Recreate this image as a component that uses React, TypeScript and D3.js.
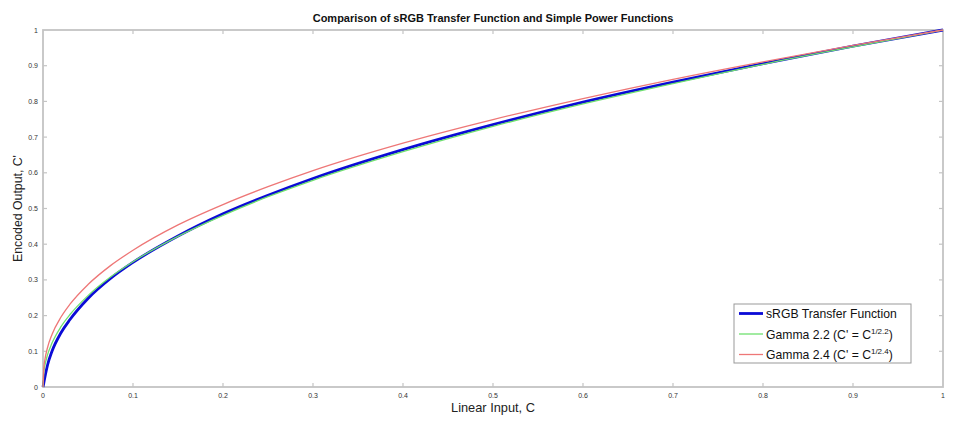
import React, { useEffect, useRef } from "react";
import * as d3 from "d3";

// input samples (x) and curve values
const inputs = [0, 0.001, 0.002, 0.005, 0.01, 0.02, 0.03, 0.05, 0.075, 0.1, 0.15, 0.2, 0.25, 0.3, 0.4, 0.5, 0.6, 0.7, 0.8, 0.9, 1];
const srgbValues = [0, 0.013, 0.026, 0.061, 0.1, 0.152, 0.189, 0.248, 0.304, 0.349, 0.423, 0.485, 0.537, 0.584, 0.665, 0.735, 0.798, 0.854, 0.906, 0.955, 1];
const gamma22Values = [0, 0.043, 0.059, 0.09, 0.123, 0.169, 0.203, 0.256, 0.308, 0.351, 0.422, 0.481, 0.533, 0.579, 0.659, 0.73, 0.793, 0.85, 0.904, 0.953, 1];
const gamma24Values = [0, 0.056, 0.075, 0.11, 0.147, 0.196, 0.232, 0.287, 0.34, 0.383, 0.454, 0.511, 0.561, 0.606, 0.683, 0.749, 0.808, 0.862, 0.911, 0.957, 1];
const tickValues = [0, 0.1, 0.2, 0.3, 0.4, 0.5, 0.6, 0.7, 0.8, 0.9, 1];

const W = 975;
const H = 429;
const margin = { left: 43, right: 32, top: 30, bottom: 42 };

const App: React.FC = () => {
  const ref = useRef<HTMLDivElement>(null);

  useEffect(() => {
    if (!ref.current) return;
    d3.select(ref.current).selectAll("*").remove();

    const svg = d3.select(ref.current).append("svg")
      .attr("width", W).attr("height", H)
      .style("display", "block")
      .style("font-family", "Arial, 'Liberation Sans', sans-serif");

    const x = d3.scaleLinear().domain([0, 1]).range([margin.left, W - margin.right]);
    const y = d3.scaleLinear().domain([0, 1]).range([H - margin.bottom, margin.top]);

    const axisColor = "#c4c4c4";
    const labelColor = "#333";

    // plot frame
    svg.append("rect")
      .attr("x", x(0)).attr("y", y(1))
      .attr("width", x(1) - x(0)).attr("height", y(0) - y(1))
      .attr("fill", "#fff").attr("stroke", axisColor).attr("stroke-width", 1.8);

    // ticks (inward, mirrored on top and right)
    const tl = 4;
    const tg = svg.append("g").attr("stroke", axisColor).attr("stroke-width", 1.2);
    tickValues.slice(1, -1).forEach((t) => {
      tg.append("line").attr("x1", x(t)).attr("x2", x(t)).attr("y1", y(0)).attr("y2", y(0) - tl);
      tg.append("line").attr("x1", x(t)).attr("x2", x(t)).attr("y1", y(1)).attr("y2", y(1) + tl);
      tg.append("line").attr("y1", y(t)).attr("y2", y(t)).attr("x1", x(0)).attr("x2", x(0) + tl);
      tg.append("line").attr("y1", y(t)).attr("y2", y(t)).attr("x1", x(1)).attr("x2", x(1) - tl);
    });

    // tick labels
    svg.append("g").selectAll("text").data(tickValues).enter().append("text")
      .attr("x", (d) => x(d)).attr("y", y(0) + 11)
      .attr("text-anchor", "middle").attr("font-size", 7).attr("fill", labelColor)
      .text((d) => String(d));
    svg.append("g").selectAll("text").data(tickValues).enter().append("text")
      .attr("x", x(0) - 5).attr("y", (d) => y(d) + 2.5)
      .attr("text-anchor", "end").attr("font-size", 7).attr("fill", labelColor)
      .text((d) => String(d));

    // curves
    const pts = (vals: number[]) => inputs.map((v, i) => [v, vals[i]] as [number, number]);
    const line = d3.line<[number, number]>()
      .x((d) => x(d[0])).y((d) => y(d[1]))
      .curve(d3.curveMonotoneX);

    const series = [
      { vals: srgbValues, color: "#0b0bd6", width: 2.8 },
      { vals: gamma22Values, color: "#6fe06f", width: 1.3 },
      { vals: gamma24Values, color: "#ee7777", width: 1.3 },
    ];
    series.forEach((s) => {
      svg.append("path").datum(pts(s.vals))
        .attr("d", line).attr("fill", "none")
        .attr("stroke", s.color).attr("stroke-width", s.width);
    });

    // title and axis labels
    svg.append("text")
      .attr("x", (x(0) + x(1)) / 2).attr("y", 22)
      .attr("text-anchor", "middle").attr("font-size", 11).attr("font-weight", "bold").attr("fill", "#111")
      .text("Comparison of sRGB Transfer Function and Simple Power Functions");
    svg.append("text")
      .attr("x", (x(0) + x(1)) / 2).attr("y", H - 17)
      .attr("text-anchor", "middle").attr("font-size", 12.8).attr("fill", "#222")
      .text("Linear Input, C");
    svg.append("text")
      .attr("transform", `translate(22, ${(y(0) + y(1)) / 2}) rotate(-90)`)
      .attr("text-anchor", "middle").attr("font-size", 12.3).attr("fill", "#222")
      .text("Encoded Output, C'");

    // legend
    const lx = 734, ly = 304, lw = 177, lh = 59;
    const lg = svg.append("g");
    lg.append("rect").attr("x", lx).attr("y", ly).attr("width", lw).attr("height", lh)
      .attr("fill", "#fff").attr("stroke", "#999").attr("stroke-width", 1);
    const entries = [
      { label: "sRGB Transfer Function", sup: "" },
      { label: "Gamma 2.2 (C' = C", sup: "1/2.2" },
      { label: "Gamma 2.4 (C' = C", sup: "1/2.4" },
    ];
    entries.forEach((e, i) => {
      const cy = ly + 9.5 + i * 20.5;
      lg.append("line").attr("x1", lx + 5).attr("x2", lx + 29).attr("y1", cy).attr("y2", cy)
        .attr("stroke", series[i].color).attr("stroke-width", series[i].width);
      const t = lg.append("text").attr("x", lx + 32).attr("y", cy + 4.5)
        .attr("font-size", 12.2).attr("fill", "#111");
      t.append("tspan").text(e.label);
      if (e.sup) {
        t.append("tspan").attr("dy", -5).attr("font-size", 8).text(e.sup);
        t.append("tspan").attr("dy", 5).text(")");
      }
    });
  }, []);

  return <div ref={ref} style={{ margin: -8 }} />;
};

export default App;
